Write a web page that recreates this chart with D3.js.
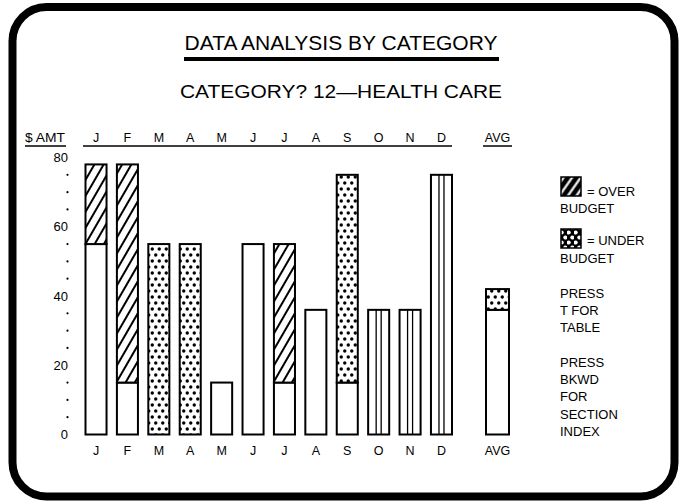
<!DOCTYPE html>
<html>
<head>
<meta charset="utf-8">
<script src="https://cdn.jsdelivr.net/npm/d3@7"></script>
<style>
  html, body { margin: 0; padding: 0; background: #fff; }
  svg { display: block; }
  text { font-family: "Liberation Sans", Arial, sans-serif; fill: #000; }
</style>
</head>
<body>
<svg id="chart" width="683" height="503"></svg>
<script>
// ---- data ----
const months = ["J","F","M","A","M","J","J","A","S","O","N","D"];
const budget = [55, 15, 55, 55, 15, 55, 15, 36, 75, 36, 36, 75];
const actual = [78, 78, 0, 0, 15, 55, 55, 36, 15, null, null, null];
const avgLabel = ["AVG"];
const avgBudget = [42];
const avgActual = [36];
const yTickLabels = [0, 20, 40, 60, 80];
const yDotTicks = [5,10,15,25,30,35,45,50,55,65,70,75];
const title = "DATA ANALYSIS BY CATEGORY";
const subtitle = "CATEGORY? 12\u2014HEALTH CARE";
const legendLines = [
  ["= OVER", "BUDGET"],
  ["= UNDER", "BUDGET"]
];
const helpLines = ["PRESS", "T FOR", "TABLE", "", "PRESS", "BKWD", "FOR", "SECTION", "INDEX"];

const svg = d3.select("#chart");

// ---- patterns ----
const defs = svg.append("defs");
const hatch = defs.append("pattern").attr("id","hatch")
  .attr("patternUnits","userSpaceOnUse").attr("width",8).attr("height",8)
  .attr("patternTransform","rotate(30)");
hatch.append("rect").attr("width",8).attr("height",8).attr("fill","#fff");
hatch.append("line").attr("x1",4).attr("y1",0).attr("x2",4).attr("y2",8)
  .attr("stroke","#000").attr("stroke-width",2);

const dots = defs.append("pattern").attr("id","dots")
  .attr("patternUnits","userSpaceOnUse").attr("width",7).attr("height",12);
dots.append("rect").attr("width",7).attr("height",12).attr("fill","#fff");
[[1.75,3],[5.25,9]].forEach(([cx,cy]) =>
  dots.append("circle").attr("cx",cx).attr("cy",cy).attr("r",1.7).attr("fill","#000"));

const hatchL = defs.append("pattern").attr("id","hatchL")
  .attr("patternUnits","userSpaceOnUse").attr("width",7).attr("height",7)
  .attr("patternTransform","rotate(35)");
hatchL.append("rect").attr("width",7).attr("height",7).attr("fill","#000");
hatchL.append("line").attr("x1",3.5).attr("y1",0).attr("x2",3.5).attr("y2",7)
  .attr("stroke","#fff").attr("stroke-width",2.2);

const dotsL = defs.append("pattern").attr("id","dotsL")
  .attr("patternUnits","userSpaceOnUse").attr("width",7).attr("height",10);
dotsL.append("rect").attr("width",7).attr("height",10).attr("fill","#000");
[[1.75,2.5],[5.25,7.5]].forEach(([cx,cy]) =>
  dotsL.append("circle").attr("cx",cx).attr("cy",cy).attr("r",2).attr("fill","#fff"));

// ---- border ----
svg.append("rect").attr("x",12.5).attr("y",7).attr("width",662).attr("height",489.5)
  .attr("rx",34).attr("ry",34).attr("fill","none").attr("stroke","#000").attr("stroke-width",8);

// ---- titles ----
svg.append("text").attr("x",341).attr("y",50).attr("text-anchor","middle")
  .attr("font-size",20).attr("textLength",313).attr("lengthAdjust","spacingAndGlyphs")
  .text(title);
svg.append("rect").attr("x",184).attr("y",57).attr("width",315).attr("height",4).attr("fill","#000");
svg.append("text").attr("x",341).attr("y",98).attr("text-anchor","middle")
  .attr("font-size",18.5).attr("textLength",322).attr("lengthAdjust","spacingAndGlyphs")
  .text(subtitle);

// ---- scales ----
const x = d3.scaleBand().domain(d3.range(months.length)).range([85.5, 452])
  .paddingInner(0.33).paddingOuter(0);
const xAvg = d3.scaleBand().domain(avgLabel).range([486, 509]);
const y = d3.scaleLinear().domain([0, 80]).range([434.5, 157.5]);

// ---- y axis ----
const yAxis = d3.axisLeft(y).tickValues(yTickLabels).tickSize(0).tickPadding(0);
const gy = svg.append("g").attr("transform","translate(68,0)").call(yAxis);
gy.select(".domain").remove();
gy.selectAll("text").attr("font-size",13).attr("font-family","Liberation Sans, Arial, sans-serif").attr("fill","#000");
svg.append("g").selectAll("circle").data(yDotTicks).join("circle")
  .attr("cx",67.5).attr("cy",d => y(d)).attr("r",1.1).attr("fill","#000");

// ---- header row ----
svg.append("text").attr("x",25).attr("y",142).attr("font-size",12.5)
  .attr("textLength",40).attr("lengthAdjust","spacingAndGlyphs").text("$ AMT");
svg.append("line").attr("x1",25).attr("x2",66).attr("y1",146).attr("y2",146)
  .attr("stroke","#000").attr("stroke-width",1.5);
svg.append("line").attr("x1",83).attr("x2",452).attr("y1",146).attr("y2",146)
  .attr("stroke","#000").attr("stroke-width",1.5);
svg.append("line").attr("x1",483).attr("x2",512).attr("y1",146).attr("y2",146)
  .attr("stroke","#000").attr("stroke-width",1.5);

const topAxis = d3.axisTop(x).tickFormat(i => months[i]).tickSize(0).tickPadding(0);
const gt = svg.append("g").attr("transform","translate(0,142)").call(topAxis);
gt.select(".domain").remove();
gt.selectAll("text").attr("font-size",12.5).attr("dy",0).attr("font-family","Liberation Sans, Arial, sans-serif").attr("fill","#000");
const gta = svg.append("g").attr("transform","translate(0,142)").call(d3.axisTop(xAvg).tickSize(0).tickPadding(0));
gta.select(".domain").remove();
gta.selectAll("text").attr("font-size",12.5).attr("dy",0).attr("font-family","Liberation Sans, Arial, sans-serif").attr("fill","#000");

// ---- bottom labels ----
const bottomAxis = d3.axisBottom(x).tickFormat(i => months[i]).tickSize(0).tickPadding(0);
const gb = svg.append("g").attr("transform","translate(0,455)").call(bottomAxis);
gb.select(".domain").remove();
gb.selectAll("text").attr("font-size",12.5).attr("dy",0).attr("font-family","Liberation Sans, Arial, sans-serif").attr("fill","#000");
const gba = svg.append("g").attr("transform","translate(0,455)").call(d3.axisBottom(xAvg).tickSize(0).tickPadding(0));
gba.select(".domain").remove();
gba.selectAll("text").attr("font-size",12.5).attr("dy",0).attr("font-family","Liberation Sans, Arial, sans-serif").attr("fill","#000");

// ---- bars ----
const SW = 2;
function drawBar(g, x0, w, b, a) {
  if (a === null) {
    // forecast: budget only, with vertical lines
    g.append("rect").attr("x",x0).attr("y",y(b)).attr("width",w).attr("height",y(0)-y(b))
      .attr("fill","#fff").attr("stroke","#000").attr("stroke-width",SW);
    const cx = x0 + w/2;
    [-2.5, 2.5].forEach(o => g.append("line").attr("x1",cx+o).attr("x2",cx+o)
      .attr("y1",y(b)).attr("y2",y(0)).attr("stroke","#000").attr("stroke-width",1.3));
    return;
  }
  const base = Math.min(a, b), top = Math.max(a, b);
  if (base > 0) {
    g.append("rect").attr("x",x0).attr("y",y(base)).attr("width",w).attr("height",y(0)-y(base))
      .attr("fill","#fff").attr("stroke","#000").attr("stroke-width",SW);
  }
  if (top > base) {
    g.append("rect").attr("x",x0).attr("y",y(top)).attr("width",w).attr("height",y(base)-y(top))
      .attr("fill", a > b ? "url(#hatch)" : "url(#dots)")
      .attr("stroke","#000").attr("stroke-width",SW);
  }
}
const gBars = svg.append("g");
months.forEach((m, i) => drawBar(gBars, x(i), x.bandwidth(), budget[i], actual[i]));
avgLabel.forEach((m, i) => drawBar(gBars, xAvg(m), xAvg.bandwidth(), avgBudget[i], avgActual[i]));

// ---- legend ----
const lg = svg.append("g");
lg.append("rect").attr("x",561).attr("y",177).attr("width",20).attr("height",19)
  .attr("fill","url(#hatchL)").attr("stroke","#000").attr("stroke-width",1.5);
lg.append("rect").attr("x",561).attr("y",229).attr("width",20).attr("height",19)
  .attr("fill","url(#dotsL)").attr("stroke","#000").attr("stroke-width",1.5);
const legY = [[191, 208], [240, 258]];
legendLines.forEach((ln, k) => {
  lg.append("text").attr("x",587).attr("y",legY[k][0]).attr("dy","0.35em").attr("font-size",13).text(ln[0]);
  lg.append("text").attr("x",560).attr("y",legY[k][1]).attr("dy","0.35em").attr("font-size",13).text(ln[1]);
});
const helpY0 = 293, helpStep = 17.4;
helpLines.forEach((t, k) => {
  if (!t) return;
  const yy = k < 3 ? helpY0 + k*helpStep : 362 + (k-4)*helpStep;
  lg.append("text").attr("x",560).attr("y",yy).attr("dy","0.35em").attr("font-size",13).text(t);
});
</script>
</body>
</html>
